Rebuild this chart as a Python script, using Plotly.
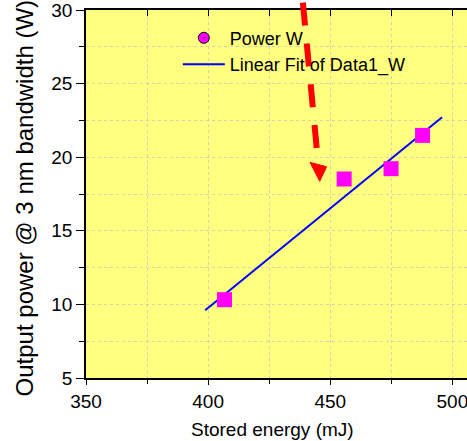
import plotly.graph_objects as go

# Data
stored_energy = [406.7, 455.7, 474.9, 487.8]      # mJ
power_w = [10.32, 18.52, 19.22, 21.48]            # W
fit_x = [398.8, 495.8]
fit_y = [9.6, 22.71]

x_ticks = [350, 400, 450, 500]
y_ticks = [5, 10, 15, 20, 25, 30]

X_RANGE = [350, 506]
Y_RANGE = [5, 30]

# arrow annotation (in data units)
arrow_tail = (438.8, 30.5)
arrow_base = (445.1, 19.5)
arrow_tip = (445.7, 18.36)
arrow_half_w = 3.4

FONT = "Liberation Sans, Arial, sans-serif"

fig = go.Figure()

fig.add_trace(go.Scatter(
    x=fit_x, y=fit_y, mode="lines",
    line=dict(color="#0000FF", width=2),
    name="Linear Fit of Data1_W", showlegend=False,
))
fig.add_trace(go.Scatter(
    x=stored_energy, y=power_w, mode="markers",
    marker=dict(symbol="square", size=15, color="#FF00FF", line=dict(width=0)),
    name="Power W", showlegend=False,
))
# legend entries
fig.add_trace(go.Scatter(
    x=[None], y=[None], mode="markers",
    marker=dict(symbol="circle-dot", size=11, color="#FF00FF", line=dict(color="black", width=1)),
    name="Power W",
))
fig.add_trace(go.Scatter(
    x=[None], y=[None], mode="lines",
    line=dict(color="#0000FF", width=2),
    name="Linear Fit of Data1_W",
))
# invisible trace for top axis
fig.add_trace(go.Scatter(x=[None], y=[None], xaxis="x2", showlegend=False, hoverinfo="skip"))


def to_paper(x, y):
    return ((x - X_RANGE[0]) / (X_RANGE[1] - X_RANGE[0]),
            (y - Y_RANGE[0]) / (Y_RANGE[1] - Y_RANGE[0]))


tx, ty = to_paper(*arrow_tail)
bx, by = to_paper(*arrow_base)
fig.add_shape(type="line", xref="paper", yref="paper",
              x0=tx, y0=ty, x1=bx, y1=by,
              line=dict(color="#FF0000", width=6, dash="23px,18px"))
l1 = to_paper(arrow_base[0] - arrow_half_w, arrow_base[1] + 0.15)
r1 = to_paper(arrow_base[0] + arrow_half_w, arrow_base[1] - 0.15)
tp = to_paper(*arrow_tip)
fig.add_shape(type="path", xref="paper", yref="paper",
              path=f"M {l1[0]},{l1[1]} L {r1[0]},{r1[1]} L {tp[0]},{tp[1]} Z",
              fillcolor="#FF0000", line=dict(color="#FF0000", width=1))

tickfont = dict(family=FONT, size=19, color="black")
grid_minor = dict(showgrid=True, gridcolor="rgba(200,200,190,0.8)", griddash="dot", gridwidth=1)

fig.add_annotation(text="Stored energy (mJ)", xref="paper", yref="paper",
                   x=0.49, y=0, yshift=-51, xanchor="center", yanchor="middle",
                   showarrow=False, font=dict(family=FONT, size=19, color="black"))
fig.add_annotation(text="Output power @ 3 nm bandwidth (W)", xref="paper", yref="paper",
                   x=0, xshift=-62, y=0.488, xanchor="center", yanchor="middle", textangle=-90,
                   showarrow=False, font=dict(family=FONT, size=24, color="black"))

fig.update_layout(
    width=467, height=441,
    margin=dict(l=86, r=0, t=10, b=63, autoexpand=False),
    paper_bgcolor="white",
    plot_bgcolor="#FFFF80",
    font=dict(family=FONT, color="black"),
    showlegend=True,
    legend=dict(x=0.241, y=0.974, xanchor="left", yanchor="top",
                bgcolor="rgba(0,0,0,0)", font=dict(family=FONT, size=18),
                tracegroupgap=0, itemwidth=42),
    xaxis=dict(
        range=X_RANGE, tickvals=x_ticks, ticks="outside", ticklen=5, tickwidth=1,
        tickcolor="black", showline=True, linecolor="black", linewidth=1.5,
        showgrid=False, zeroline=False, tickfont=tickfont, automargin=False,
        ticklabeloverflow="allow",
        minor=dict(dtick=25, tick0=350, ticks="outside", ticklen=4, tickcolor="black", **grid_minor),
    ),
    xaxis2=dict(
        range=X_RANGE, overlaying="x", side="top", anchor="y",
        tickvals=x_ticks, ticks="inside", ticklen=6, tickcolor="black",
        showticklabels=False, showline=True, linecolor="black", linewidth=1.5,
        showgrid=False, zeroline=False, automargin=False,
        minor=dict(dtick=25, tick0=350, ticks="inside", ticklen=6, tickcolor="black", showgrid=False),
    ),
    yaxis=dict(
        range=Y_RANGE, tickvals=y_ticks, ticks="outside", ticklen=8, tickwidth=1,
        tickcolor="black", showline=True, linecolor="black", linewidth=1.5,
        showgrid=False, zeroline=False, tickfont=tickfont, automargin=False,
        ticklabeloverflow="allow",
        minor=dict(dtick=2.5, tick0=5, ticks="outside", ticklen=5, tickcolor="black", **grid_minor),
    ),
)

fig.write_html("out.html", config={"displayModeBar": False},
               post_script="document.body.style.margin='0';")
